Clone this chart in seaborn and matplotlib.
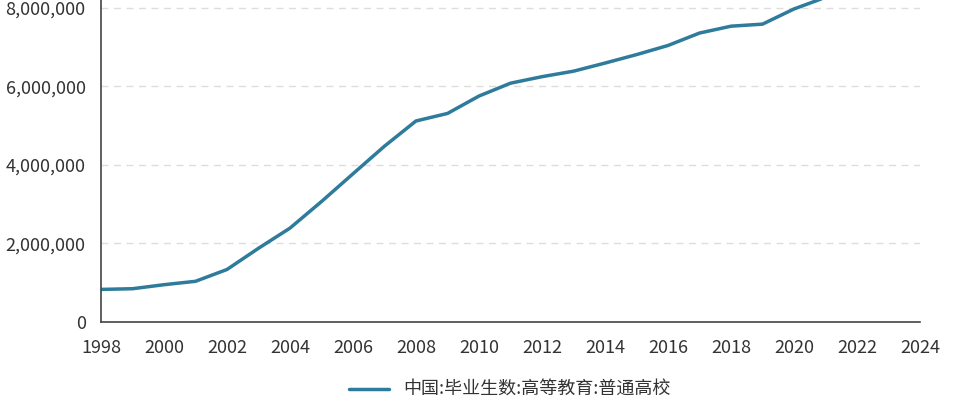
import pandas as pd
import matplotlib.pyplot as plt
import seaborn as sns
from matplotlib.ticker import FuncFormatter

years = list(range(1998, 2023))
graduates = [829833, 847617, 949767, 1036323, 1337309, 1877492, 2391152, 3067956,
             3774708, 4477907, 5119498, 5311023, 5754245, 6081565, 6247338, 6387210,
             6593671, 6808866, 7041800, 7358300, 7533100, 7585298, 7971991, 8267000,
             9672000]
series_name = "中国:毕业生数:高等教育:普通高校"

df = pd.DataFrame({"年份": years, "毕业生数": graduates})

sns.set_style("white")
plt.rcParams['font.family'] = ['Noto Sans CJK SC', 'DejaVu Sans']

fig = plt.figure(figsize=(9.57, 4.08), dpi=100)
ax = fig.add_axes([101 / 957, 86 / 408, 819 / 957, 322 / 408])

sns.lineplot(data=df, x="年份", y="毕业生数", ax=ax, color="#2e7b9c", linewidth=2.5,
             label=series_name, legend=False)

ax.set_xlim(1998, 2024)
ax.set_ylim(0, 8.2e6)
ax.set_xticks(range(1998, 2025, 2))
ax.set_yticks([0, 2e6, 4e6, 6e6, 8e6])
ax.yaxis.set_major_formatter(FuncFormatter(lambda v, p: f"{int(v):,}"))
ax.set_xlabel("")
ax.set_ylabel("")

for y in [2e6, 4e6, 6e6, 8e6]:
    ax.axhline(y, color="#dddddd", linestyle=(0, (5, 4)), linewidth=1, zorder=0)

for side in ["top", "right"]:
    ax.spines[side].set_visible(False)
for side in ["left", "bottom"]:
    ax.spines[side].set_color("#444444")
    ax.spines[side].set_linewidth(1.2)

ax.tick_params(axis="both", direction="out", length=8, width=1.2, color="#444444",
               labelsize=13, labelcolor="#333333", pad=3)
ax.tick_params(axis="x", pad=4)

handles, labels = ax.get_legend_handles_labels()
fig.legend(handles, labels, loc="center", bbox_to_anchor=(510 / 957, 18 / 408),
           frameon=False, fontsize=13, handlelength=2.2, labelcolor="#333333")

fig.savefig("out.png", dpi=100)
